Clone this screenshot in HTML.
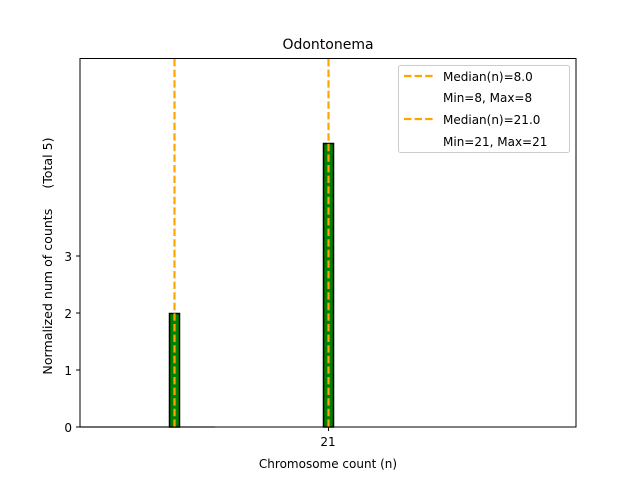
<!DOCTYPE html>
<html><head><style>body{margin:0;background:#fff}</style></head><body>
<svg width="640" height="480" xmlns="http://www.w3.org/2000/svg" font-family="DejaVu Sans, Liberation Sans, sans-serif">
<rect width="640" height="480" fill="#fff"/>
<line x1="80" y1="427" x2="215" y2="427" stroke="#bbb" stroke-width="1.5"/>
<rect x="169.5" y="313.5" width="10" height="113.5" fill="#008000" stroke="#000" stroke-width="1.5"/>
<rect x="323.5" y="143.5" width="10" height="283.5" fill="#008000" stroke="#000" stroke-width="1.5"/>
<line x1="174.5" y1="59" x2="174.5" y2="427" stroke="#FFA500" stroke-width="2.2" stroke-dasharray="7.4,3.2"/>
<line x1="328.5" y1="59" x2="328.5" y2="427" stroke="#FFA500" stroke-width="2.2" stroke-dasharray="7.4,3.2"/>
<rect x="80" y="58.5" width="496" height="368.5" fill="none" stroke="#000" stroke-width="1"/>
<g font-size="13" fill="#000">
<text x="328" y="49" text-anchor="middle" font-size="14">Odontonema</text>
<g text-anchor="end" font-size="12">
<text x="72" y="432">0</text><text x="72" y="375">1</text><text x="72" y="318">2</text><text x="72" y="261">3</text>
</g>
<g stroke="#000"><line x1="76" y1="427" x2="80" y2="427"/><line x1="76" y1="370" x2="80" y2="370"/><line x1="76" y1="313" x2="80" y2="313"/><line x1="76" y1="256" x2="80" y2="256"/><line x1="328.5" y1="427" x2="328.5" y2="431"/></g>
<text x="328" y="446" text-anchor="middle" font-size="12">21</text>
<text x="328" y="468" text-anchor="middle" font-size="12">Chromosome count (n)</text>
<text transform="translate(52,256) rotate(-90)" text-anchor="middle" font-size="12.6" style="white-space:pre">Normalized num of counts     (Total 5)</text>
</g>
<rect x="398.5" y="65.5" width="171" height="87" rx="2" fill="#fff" fill-opacity="0.8" stroke="#ccc"/>
<g stroke="#FFA500" stroke-width="2.2" stroke-dasharray="7.4,3.2"><line x1="404" y1="76" x2="434" y2="76"/><line x1="404" y1="119" x2="434" y2="119"/></g>
<g font-size="12" fill="#000">
<text x="443" y="81">Median(n)=8.0</text>
<text x="443" y="102">Min=8, Max=8</text>
<text x="443" y="124">Median(n)=21.0</text>
<text x="443" y="146">Min=21, Max=21</text>
</g>
</svg>
</body></html>
